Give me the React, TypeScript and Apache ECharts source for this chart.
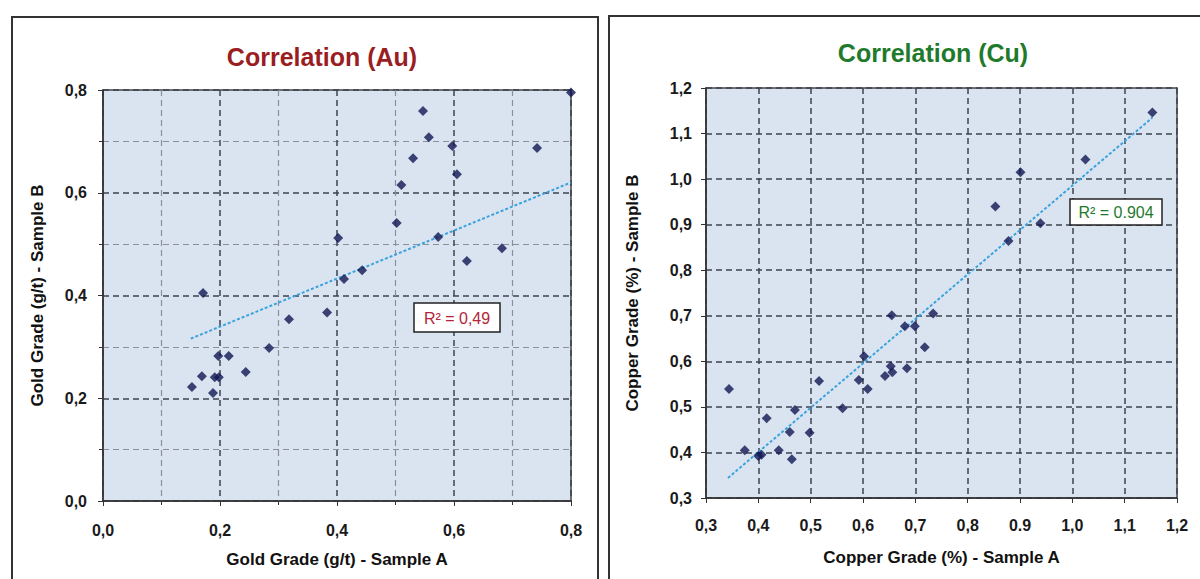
import React, { useEffect, useRef } from "react";
import * as echarts from "echarts";

// ---- Data: Gold (Au) ----
const auSampleA = [0.8, 0.547, 0.557, 0.53, 0.597, 0.742, 0.605, 0.51, 0.502, 0.402, 0.573, 0.682, 0.622, 0.443, 0.412, 0.171, 0.383, 0.318, 0.284, 0.197, 0.215, 0.244, 0.169, 0.191, 0.198, 0.152, 0.188];
const auSampleB = [0.795, 0.759, 0.708, 0.667, 0.691, 0.687, 0.636, 0.615, 0.541, 0.512, 0.514, 0.492, 0.467, 0.449, 0.432, 0.405, 0.367, 0.354, 0.298, 0.282, 0.282, 0.251, 0.243, 0.241, 0.241, 0.222, 0.21];
const auTrendX = [0.15, 0.8];
const auTrendY = [0.316, 0.62];
const auR2Label = "R² = 0,49";
const auTickLabels = ["0,0", "0,2", "0,4", "0,6", "0,8"];

// ---- Data: Copper (Cu) ----
const cuSampleA = [0.344, 0.374, 0.4, 0.406, 0.416, 0.439, 0.46, 0.464, 0.47, 0.498, 0.516, 0.561, 0.592, 0.602, 0.609, 0.642, 0.653, 0.656, 0.655, 0.68, 0.684, 0.699, 0.718, 0.734, 1.153, 1.025, 0.901, 0.853, 0.939, 0.878];
const cuSampleB = [0.539, 0.405, 0.392, 0.395, 0.475, 0.405, 0.445, 0.385, 0.493, 0.443, 0.557, 0.497, 0.559, 0.611, 0.539, 0.568, 0.589, 0.576, 0.701, 0.677, 0.585, 0.677, 0.631, 0.705, 1.146, 1.043, 1.015, 0.94, 0.903, 0.864];
const cuTrendX = [0.342, 1.153];
const cuTrendY = [0.344, 1.135];
const cuR2Label = "R² = 0.904";
const cuXTickLabels = ["0,3", "0,4", "0,5", "0,6", "0,7", "0,8", "0.9", "1,0", "1,1", "1,2"];
const cuYTickLabels = ["0,3", "0,4", "0,5", "0,6", "0,7", "0,8", "0,9", "1,0", "1,1", "1,2"];

const FONT = "'Liberation Sans', Arial, sans-serif";

export default function App() {
  const ref = useRef<HTMLDivElement>(null);

  useEffect(() => {
    document.body.style.margin = "0";
    if (!ref.current) return;
    const chart = echarts.init(ref.current, null, { renderer: "svg" });

    const auLabel = (v: number) => auTickLabels[Math.round(v / 0.2)] ?? "";
    const cuXLabel = (v: number) => cuXTickLabels[Math.round((v - 0.3) / 0.1)] ?? "";
    const cuYLabel = (v: number) => cuYTickLabels[Math.round((v - 0.3) / 0.1)] ?? "";

    const tickLabel = { color: "#1a1a1a", fontSize: 16, fontWeight: "bold" as const, fontFamily: FONT };
    const nameStyle = { color: "#111", fontSize: 17, fontWeight: "bold" as const, fontFamily: FONT };
    const axisLine = { show: true, lineStyle: { color: "#333", width: 1.5 } };
    const majorGrid = { show: true, lineStyle: { color: "#3c4150", type: [6, 4] as any, width: 1.5 } };
    const minorGrid = { show: true, lineStyle: { color: "#8a8f9c", type: [6, 4] as any, width: 1.2 } };

    const option: any = {
      animation: false,
      backgroundColor: "#ffffff",
      grid: [
        { left: 103, top: 90, width: 468, height: 411, show: true, backgroundColor: "#DAE4F0", borderColor: "#444", borderWidth: 1.5 },
        { left: 706, top: 88, width: 471, height: 410, show: true, backgroundColor: "#DAE4F0", borderColor: "#444", borderWidth: 1.5 },
      ],
      xAxis: [
        {
          type: "value", gridIndex: 0, min: 0, max: 0.8, interval: 0.2,
          axisLine, axisTick: { show: true, length: 5, lineStyle: { color: "#333" } },
          minorTick: { show: true, splitNumber: 2, length: 4, lineStyle: { color: "#333" } },
          splitLine: majorGrid, minorSplitLine: minorGrid,
          axisLabel: { ...tickLabel, margin: 21, formatter: auLabel },
          name: "Gold Grade (g/t) - Sample A", nameLocation: "middle", nameGap: 50, nameTextStyle: nameStyle,
        },
        {
          type: "value", gridIndex: 1, min: 0.3, max: 1.2, interval: 0.1,
          axisLine, axisTick: { show: true, length: 5, lineStyle: { color: "#333" } },
          splitLine: majorGrid,
          axisLabel: { ...tickLabel, margin: 19, formatter: cuXLabel },
          name: "Copper Grade (%) - Sample A", nameLocation: "middle", nameGap: 51, nameTextStyle: nameStyle,
        },
      ],
      yAxis: [
        {
          type: "value", gridIndex: 0, min: 0, max: 0.8, interval: 0.2,
          axisLine, axisTick: { show: true, length: 5, lineStyle: { color: "#333" } },
          minorTick: { show: true, splitNumber: 2, length: 4, lineStyle: { color: "#333" } },
          splitLine: majorGrid, minorSplitLine: minorGrid,
          axisLabel: { ...tickLabel, margin: 16, formatter: auLabel },
          name: "Gold Grade (g/t) - Sample B", nameLocation: "middle", nameGap: 57, nameTextStyle: nameStyle,
        },
        {
          type: "value", gridIndex: 1, min: 0.3, max: 1.2, interval: 0.1,
          axisLine, axisTick: { show: true, length: 5, lineStyle: { color: "#333" } },
          splitLine: majorGrid,
          axisLabel: { ...tickLabel, margin: 14, formatter: cuYLabel },
          name: "Copper Grade (%) - Sample B", nameLocation: "middle", nameGap: 65, nameTextStyle: nameStyle,
        },
      ],
      series: [
        {
          type: "line", xAxisIndex: 0, yAxisIndex: 0, symbol: "none", silent: true,
          data: auTrendX.map((x, i) => [x, auTrendY[i]]),
          lineStyle: { color: "#3AA3DE", width: 2, type: [3, 2] },
          z: 3,
        },
        {
          type: "scatter", xAxisIndex: 0, yAxisIndex: 0, symbol: "diamond", symbolSize: 10,
          data: auSampleA.map((x, i) => [x, auSampleB[i]]),
          itemStyle: { color: "#101652" }, z: 4,
        },
        {
          type: "line", xAxisIndex: 1, yAxisIndex: 1, symbol: "none", silent: true,
          data: cuTrendX.map((x, i) => [x, cuTrendY[i]]),
          lineStyle: { color: "#3AA3DE", width: 2, type: [3, 2] },
          z: 3,
        },
        {
          type: "scatter", xAxisIndex: 1, yAxisIndex: 1, symbol: "diamond", symbolSize: 10,
          data: cuSampleA.map((x, i) => [x, cuSampleB[i]]),
          itemStyle: { color: "#101652" }, z: 4,
        },
      ],
      graphic: [
        { type: "rect", shape: { x: 12, y: 17, width: 586, height: 620 }, style: { fill: "none", stroke: "#333", lineWidth: 2 }, z: -10 },
        { type: "rect", shape: { x: 609, y: 16, width: 620, height: 620 }, style: { fill: "none", stroke: "#333", lineWidth: 2 }, z: -10 },
        { type: "text", x: 322, y: 57, style: { text: "Correlation (Au)", align: "center", verticalAlign: "middle", font: `bold 25px ${FONT}`, fill: "#9A1D1F" } },
        { type: "text", x: 933, y: 53, style: { text: "Correlation (Cu)", align: "center", verticalAlign: "middle", font: `bold 25px ${FONT}`, fill: "#1F7A2C" } },
        { type: "rect", shape: { x: 414, y: 303, width: 86, height: 29 }, style: { fill: "#ffffff", stroke: "#222", lineWidth: 1.5 }, z: 10 },
        { type: "text", x: 457, y: 318, style: { text: auR2Label, align: "center", verticalAlign: "middle", font: `16px ${FONT}`, fill: "#B3243A" }, z: 11 },
        { type: "rect", shape: { x: 1070, y: 199, width: 92, height: 26 }, style: { fill: "#ffffff", stroke: "#222", lineWidth: 1.5 }, z: 10 },
        { type: "text", x: 1116, y: 212, style: { text: cuR2Label, align: "center", verticalAlign: "middle", font: `16px ${FONT}`, fill: "#1F7A2C" }, z: 11 },
      ],
    };

    chart.setOption(option);
    return () => chart.dispose();
  }, []);

  return <div ref={ref} style={{ width: 1200, height: 579 }} />;
}
